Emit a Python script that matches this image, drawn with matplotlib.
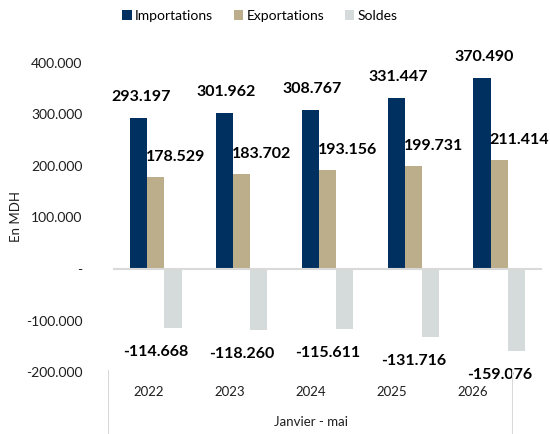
import numpy as np
import matplotlib
matplotlib.use("Agg")
import matplotlib.pyplot as plt

plt.rcParams['font.family'] = ['Lato', 'DejaVu Sans']

years = ['2022', '2023', '2024', '2025', '2026']
importations = [293197, 301962, 308767, 331447, 370490]
exportations = [178529, 183702, 193156, 199731, 211414]
soldes = [-114668, -118260, -115611, -131716, -159076]
yticks = [-200000, -100000, 0, 100000, 200000, 300000, 400000]

c_imp = '#00305F'
c_exp = '#BCAD8B'
c_sol = '#D5DBDB'
c_line = '#D9D9D9'
c_txt = '#1E1E1E'


def fmt(v):
    # french style: dot as thousands separator, zero shown as dash
    if v == 0:
        return '-'
    s = f'{abs(v):,}'.replace(',', '.')
    return ('-' if v < 0 else '') + s


W, H = 550, 434
fig = plt.figure(figsize=(W / 100, H / 100), dpi=100)
ax = fig.add_axes([113 / W, 1 - 372 / H, (542 - 113) / W, (372 - 63) / H])

x = np.arange(len(years))
w = 0.2
b1 = ax.bar(x - w, importations, w, color=c_imp, label='Importations')
b2 = ax.bar(x, exportations, w, color=c_exp, label='Exportations')
b3 = ax.bar(x + w, soldes, w, color=c_sol, label='Soldes')
ax.axhline(0, color=c_line, lw=1.5, zorder=3)

for bars, vals, dx, dy in [(b1, importations, 2, 21), (b2, exportations, 20, 20), (b3, soldes, -17, -24)]:
    for r, v in zip(bars, vals):
        yy = r.get_height() if v > 0 else v
        ax.annotate(fmt(v), (r.get_x() + r.get_width() / 2, yy), xytext=(dx, dy),
                    textcoords='offset pixels', ha='center', va='center',
                    fontsize=11.5, fontweight='bold', color='black', zorder=5,
                    annotation_clip=False)

ax.set_xlim(-0.5, len(years) - 0.5)
ax.set_ylim(-200000, 400000)
ax.set_yticks(yticks)
ax.set_yticklabels([fmt(v) for v in yticks], fontsize=10, color=c_txt)
ax.tick_params(axis='y', length=0, pad=22)
ax.set_xticks([])
for s in ax.spines.values():
    s.set_visible(False)

fig.text(16 / W, 1 - 217 / H, 'En MDH', rotation=90, ha='center', va='center',
         fontsize=9.5, color=c_txt)

# category box below the plot
cax = fig.add_axes([108 / W, 0, (513 - 108) / W, (434 - 370) / H])
cax.set_xlim(-0.5, len(years) - 0.5)
cax.set_ylim(0, 1)
cax.axis('off')
cax.axvline(-0.5, color=c_line, lw=1.5)
cax.axvline(len(years) - 0.5, color=c_line, lw=1.5)
for i, yr in enumerate(years):
    cax.text(i, 1 - 22 / 64, yr, ha='center', va='center', fontsize=9.5, color=c_txt)
cax.text((len(years) - 1) / 2, 1 - 52 / 64, 'Janvier - mai', ha='center', va='center',
         fontsize=9.5, color=c_txt)

fig.legend(handles=[b1, b2, b3], loc='center', bbox_to_anchor=(260 / W, 1 - 16 / H),
           ncol=3, frameon=False, fontsize=10, handlelength=0.65, handleheight=0.65,
           handletextpad=0.25, columnspacing=1.5)

fig.savefig('out.png', dpi=100)
